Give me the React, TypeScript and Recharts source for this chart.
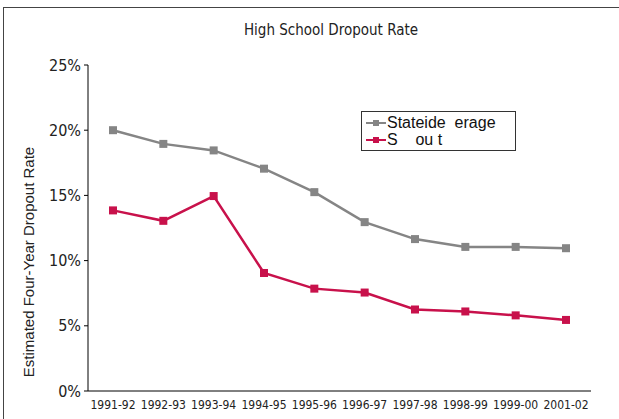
import React from 'react';
import { LineChart, Line, XAxis, YAxis, Label } from 'recharts';

// Values (percent).
const YEARS = [
  '1991-92', '1992-93', '1993-94', '1994-95', '1995-96',
  '1996-97', '1997-98', '1998-99', '1999-00', '2001-02',
];
const STATEWIDE = [20.0, 18.95, 18.45, 17.05, 15.25, 12.95, 11.65, 11.05, 11.05, 10.95];
const SCHOOL = [13.85, 13.05, 14.95, 9.05, 7.85, 7.55, 6.25, 6.1, 5.8, 5.45];
const Y_TICKS = [0, 5, 10, 15, 20, 25];

const SERIES = [
  { key: 'statewide', name: 'Stateide  erage', color: '#858585' },
  { key: 'school', name: 'S    ou t', color: '#c8114b' },
];

const FONT = '"Liberation Sans Narrow", "Arial Narrow", "DejaVu Sans Condensed", sans-serif';
const WIDE_FONT = '"Liberation Sans", Arial, sans-serif';

const data = YEARS.map((year, i) => ({
  year,
  statewide: STATEWIDE[i],
  school: SCHOOL[i],
}));

function SquareDot(color: string) {
  return (props: any) => {
    const { cx, cy, index } = props;
    if (cx == null || cy == null) return <g key={index} />;
    return <rect key={index} x={cx - 4} y={cy - 4} width={8} height={8} fill={color} />;
  };
}

function LegendBox() {
  return (
    <div
      style={{
        position: 'absolute',
        left: 361,
        top: 111,
        border: '1px solid #333',
        width: 155,
        height: 40,
        padding: '2px 0 0 4px',
        fontFamily: WIDE_FONT,
        fontSize: 16,
        lineHeight: '17px',
        color: '#111',
        background: '#fff',
        boxSizing: 'border-box',
      }}
    >
      {SERIES.map((s) => (
        <div key={s.key} style={{ display: 'flex', alignItems: 'center', whiteSpace: 'pre' }}>
          <svg width={20} height={10} style={{ marginRight: 1 }}>
            <line x1={0} y1={5} x2={20} y2={5} stroke={s.color} strokeWidth={2} />
            <rect x={7} y={2} width={6} height={6} fill={s.color} />
          </svg>
          {s.name}
        </div>
      ))}
    </div>
  );
}

function YLabel(props: any) {
  const { viewBox } = props;
  const x = viewBox.x + 34;
  const y = viewBox.y + viewBox.height / 2 + 34;
  return (
    <text
      x={x}
      y={y}
      transform={`rotate(-90, ${x}, ${y})`}
      textAnchor="middle"
      style={{ fontFamily: WIDE_FONT, fontSize: 15, fill: '#222' }}
    >
      Estimated Four-Year Dropout Rate
    </text>
  );
}

export default function App() {
  return (
    <div
      style={{
        position: 'fixed',
        left: 0,
        top: 0,
        width: 619,
        height: 419,
        background: '#fff',
        overflow: 'hidden',
      }}
    >
      <div
        style={{
          position: 'absolute',
          left: 3,
          top: 7,
          width: 640,
          height: 440,
          border: '1px solid #444',
          boxSizing: 'border-box',
        }}
      />
      <div
        style={{
          position: 'absolute',
          left: 0,
          top: 21,
          width: 662,
          textAlign: 'center',
          fontFamily: FONT,
          fontSize: 15,
          color: '#222',
        }}
      >
        High School Dropout Rate
      </div>
      <div style={{ position: 'absolute', left: 0, top: 0 }}>
        <LineChart
          width={619}
          height={419}
          data={data}
          margin={{ top: 65, right: 28, bottom: 0, left: 0 }}
        >
          <XAxis
            dataKey="year"
            height={28}
            padding={{ left: 25, right: 25 }}
            axisLine={{ stroke: '#000', strokeWidth: 1 }}
            tickLine={false}
            interval={0}
            tick={{ fontSize: 12, fill: '#222', fontFamily: FONT }}
            tickMargin={3}
          />
          <YAxis
            width={88}
            domain={[0, 25]}
            ticks={Y_TICKS}
            tickFormatter={(v) => `${v}%`}
            axisLine={{ stroke: '#000', strokeWidth: 1 }}
            tickLine={{ stroke: '#000' }}
            tickSize={4}
            tickMargin={3}
            tick={{ fontSize: 16, fill: '#222', fontFamily: FONT }}
            interval={0}
          >
            <Label content={<YLabel />} />
          </YAxis>
          {SERIES.map((s) => (
            <Line
              key={s.key}
              type="linear"
              dataKey={s.key}
              name={s.name}
              stroke={s.color}
              strokeWidth={2.5}
              dot={SquareDot(s.color)}
              activeDot={false}
              isAnimationActive={false}
            />
          ))}
        </LineChart>
      </div>
      <LegendBox />
    </div>
  );
}
